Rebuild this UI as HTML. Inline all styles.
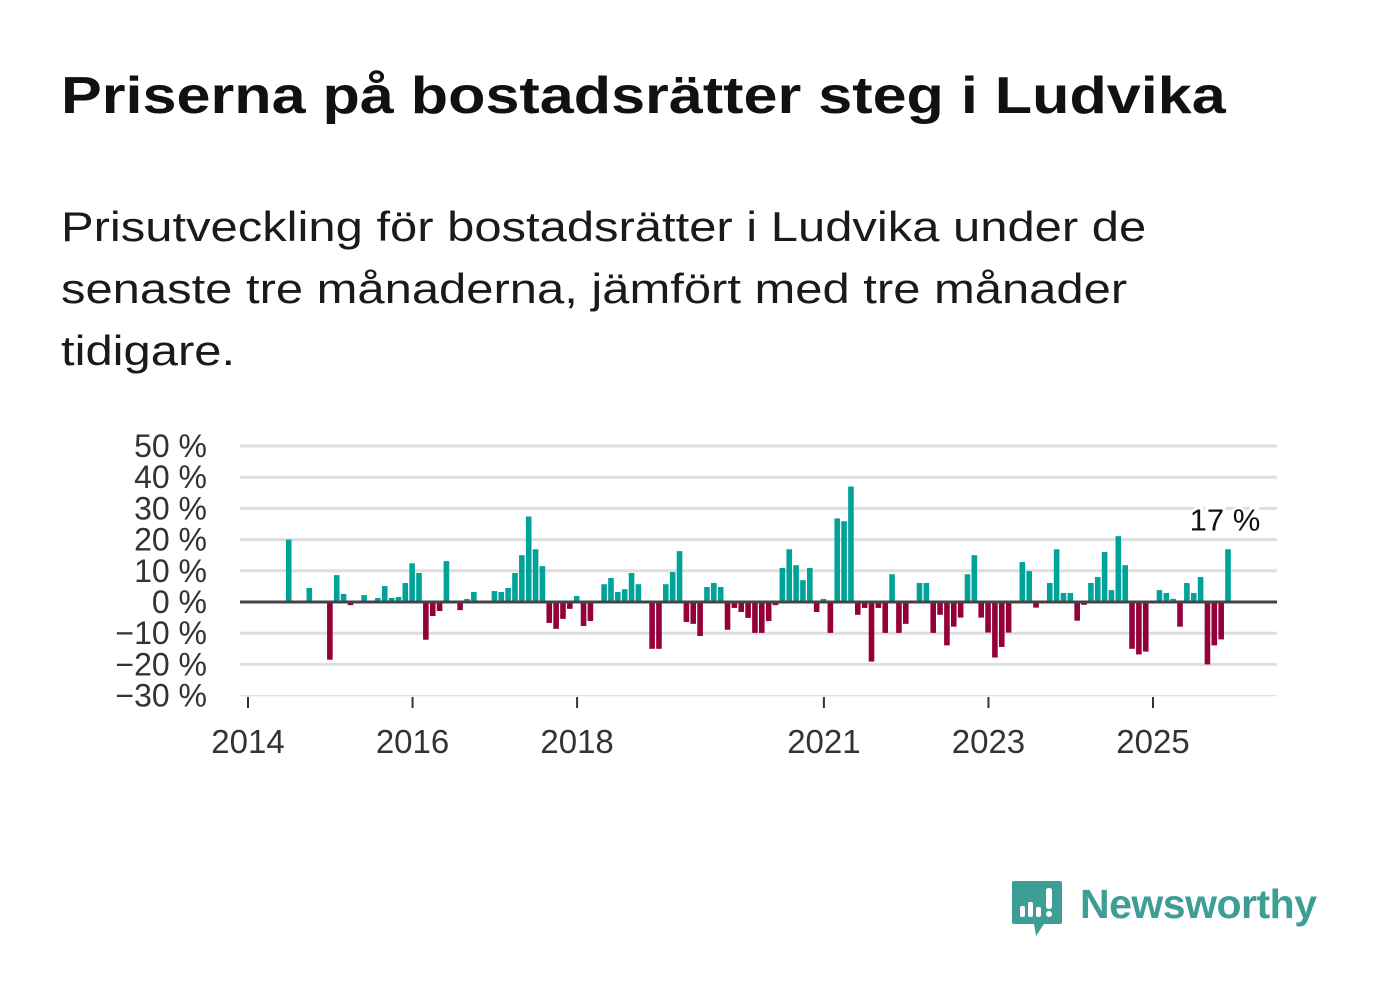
<!DOCTYPE html>
<html><head><meta charset="utf-8">
<style>
html,body{margin:0;padding:0;background:#fff;}
body{width:1382px;height:999px;position:relative;overflow:hidden;font-family:"Liberation Sans","DejaVu Sans",sans-serif;}
#title{position:absolute;left:61px;top:66px;font-size:52px;font-weight:bold;color:#111;white-space:nowrap;margin:0;transform:scaleX(1.175);transform-origin:0 0;}
#subtitle{position:absolute;left:61px;top:196px;font-size:42px;line-height:62px;color:#1a1a1a;margin:0;white-space:nowrap;transform:scaleX(1.165);transform-origin:0 0;}
</style></head><body>
<h1 id="title">Priserna på bostadsrätter steg i Ludvika</h1>
<p id="subtitle">Prisutveckling för bostadsrätter i Ludvika under de<br>senaste tre månaderna, jämfört med tre månader<br>tidigare.</p>
<svg id="chart" width="1382" height="999" style="position:absolute;left:0;top:0" xmlns="http://www.w3.org/2000/svg"></svg>
<div style="position:absolute;left:1010px;top:878px;width:320px;height:64px;">
<svg width="56" height="62" style="position:absolute;left:0;top:0">
<path d="M4 3 H50 Q52 3 52 5 V44 Q52 46 50 46 H34 L26 58 L24 46 H4 Q2 46 2 44 V5 Q2 3 4 3Z" fill="#3e9e96"/>
<rect x="10" y="28" width="5" height="11" rx="2" fill="#fff"/>
<rect x="18" y="24" width="5" height="15" rx="2" fill="#fff"/>
<rect x="26" y="29" width="5" height="10" rx="2" fill="#fff"/>
<rect x="36" y="10" width="6" height="21" rx="2.5" fill="#fff"/>
<circle cx="39" cy="36" r="3" fill="#fff"/>
</svg>
<span style="position:absolute;left:70px;top:3px;font-size:41px;font-weight:bold;color:#3e9e96;font-family:'Liberation Sans',sans-serif;letter-spacing:-0.5px;">Newsworthy</span>
</div>
<script>
const values = [20,null,null,4.5,null,null,-18.5,8.6,2.6,-1,null,2.2,null,1.3,5.1,1.3,1.6,6.1,12.4,9.3,-12.1,-4.5,-2.9,13.1,null,-2.6,1,3.2,null,null,3.5,3.2,4.5,9.3,15,27.4,16.9,11.5,-6.7,-8.6,-5.4,-2.2,1.9,-7.7,-6.1,null,5.7,7.7,3.2,4.1,9.3,5.7,null,-15,-15,5.7,9.6,16.3,-6.4,-7,-10.9,4.8,6.1,4.8,-8.9,-1.9,-3.2,-5.1,-9.9,-9.9,-6.1,-1,10.9,16.9,11.8,7,10.9,-3.2,1,-9.9,26.8,25.9,37,-4.1,-1.9,-19.1,-1.9,-9.9,8.9,-9.9,-7,null,6.1,6.1,-9.9,-4.1,-13.9,-7.9,-5,8.9,15,-5,-9.8,-17.8,-14.4,-9.8,null,12.8,9.9,-1.8,null,6.1,16.9,2.9,2.9,-6,-0.9,6.1,8,16,3.8,21.1,11.8,-15,-16.8,-15.9,null,3.8,2.9,1,-7.9,6.1,2.9,8,-20,-13.9,-12,16.9];
const startMonth = 6; // months since Jan 2014
const yTicks = [50,40,30,20,10,0,-10,-20,-30];
const yTickLabels = ["50 %","40 %","30 %","20 %","10 %","0 %","−10 %","−20 %","−30 %"];
const xTickYears = [2014,2016,2018,2021,2023,2025];
const lastLabel = "17 %";

const NS="http://www.w3.org/2000/svg";
const svg=document.getElementById('chart');
const plotL=240, plotR=1277;
function y(v){return 602 - v*3.12;}
function xMonth(m){return 248 + m*(905/132) - 0.4;}
function xYear(yr){return 248 + (yr-2014)*(905/11);}
function el(tag,attrs){const e=document.createElementNS(NS,tag);for(const k in attrs)e.setAttribute(k,attrs[k]);svg.appendChild(e);return e;}

yTicks.forEach((t,i)=>{
  if(t!==0){
    const g=el('line',{x1:plotL,x2:plotR,y1:y(t),y2:y(t),stroke:t===-30?'#e6e6e6':'#dedede','stroke-width':t===-30?1.5:3});
    
    
  }
  const tx=el('text',{x:207,y:y(t)+11,'text-anchor':'end','font-size':32,fill:'#333','font-family':'Liberation Sans, sans-serif'});
  tx.textContent=yTickLabels[i];
  
  
});
xTickYears.forEach(yr=>{
  const t=el('line',{x1:xYear(yr),x2:xYear(yr),y1:697,y2:708,stroke:'#333','stroke-width':2});
  
  
  const tx=el('text',{x:xYear(yr),y:753,'text-anchor':'middle','font-size':33,fill:'#333','font-family':'Liberation Sans, sans-serif'});
  tx.textContent=String(yr);
  
  
});
values.forEach((v,i)=>{
  if(v===null) return;
  const cx=xMonth(startMonth+i);
  const top=v>=0?y(v):y(0);
  const h=Math.abs(y(v)-y(0));
  const r=el('rect',{x:cx-2.8,y:top,width:5.6,height:h,fill:v>=0?'#00a39a':'#940039'});
  
  
});
const z=el('line',{x1:plotL,x2:plotR,y1:y(0),y2:y(0),stroke:'#444','stroke-width':3});


const li=values.length-1;
const lb=el('text',{x:xMonth(startMonth+li)-3,y:y(values[li])-19,'text-anchor':'middle','font-size':31,fill:'#111','font-family':'Liberation Sans, sans-serif',stroke:'#fff','stroke-width':6,'paint-order':'stroke'});
lb.textContent=lastLabel;


</script>
</body></html>
